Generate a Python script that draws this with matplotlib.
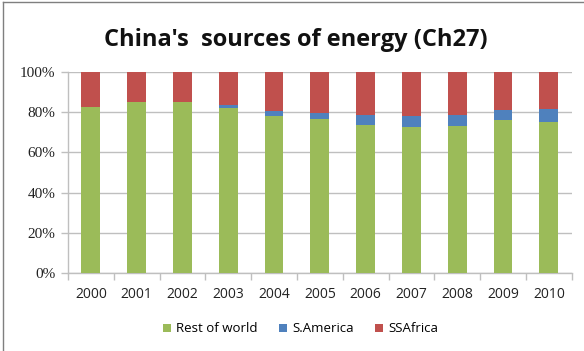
import numpy as np
import matplotlib.pyplot as plt
from matplotlib.ticker import FixedLocator
from matplotlib.lines import Line2D

years = ["2000", "2001", "2002", "2003", "2004", "2005",
         "2006", "2007", "2008", "2009", "2010"]
rest_of_world = [82.3, 84.8, 84.8, 81.8, 78.0, 76.7, 73.6, 72.7, 73.1, 75.9, 74.9]
s_america = [0.3, 0.4, 0.3, 1.7, 2.3, 2.7, 4.9, 5.3, 5.6, 5.3, 6.7]
ss_africa = [100 - r - s for r, s in zip(rest_of_world, s_america)]
pct_ticks = [0, 20, 40, 60, 80, 100]

green = "#9BBB59"
blue = "#4F81BD"
red = "#C0504D"
grid_col = "#BFBFBF"

fig = plt.figure(figsize=(5.84, 3.51), dpi=100)
ax = fig.add_axes([0.1164, 0.2214, 0.8626, 0.5743])

x = np.arange(len(years))
w = 0.41
ax.bar(x, rest_of_world, w, color=green, label="Rest of world", zorder=3)
ax.bar(x, s_america, w, bottom=rest_of_world, color=blue, label="S.America", zorder=3)
bottom2 = [r + s for r, s in zip(rest_of_world, s_america)]
ax.bar(x, ss_africa, w, bottom=bottom2, color=red, label="SSAfrica", zorder=3)

ax.set_xlim(-0.5, len(years) - 0.5)
ax.set_ylim(0, 100)
ax.set_yticks(pct_ticks, labels=[f"{t}%" for t in pct_ticks],
              family="Liberation Serif", fontsize=11, color="#222222")
ax.grid(axis="y", color=grid_col, linewidth=1, zorder=0)

ax.set_xticks(x, labels=years, family="Open Sans", fontsize=10, color="#222222")
ax.xaxis.set_minor_locator(FixedLocator(np.arange(-0.5, len(years), 1.0)))
ax.tick_params(axis="x", which="major", length=0, pad=10)
ax.tick_params(axis="x", which="minor", length=5, color=grid_col, width=1)
ax.tick_params(axis="y", length=5, color=grid_col, width=1, pad=4)

for side in ["top", "right"]:
    ax.spines[side].set_visible(False)
for side in ["left", "bottom"]:
    ax.spines[side].set_color(grid_col)
    ax.spines[side].set_linewidth(1)

fig.text(0.506, 0.886, "China's  sources of energy (Ch27)", ha="center", va="center",
         fontsize=17, fontweight="bold", family="Open Sans", color="#111111")

fig.legend(loc="center", bbox_to_anchor=(0.515, 0.063), ncol=3, frameon=False,
           prop={"family": "Open Sans", "size": 9.5}, handlelength=0.6, handleheight=0.6,
           handletextpad=0.4, columnspacing=1.6)

# outer chart frame (left and top edges)
fig.add_artist(Line2D([0.005, 0.005], [0, 0.995], transform=fig.transFigure, color="#7F7F7F", lw=1))
fig.add_artist(Line2D([0.005, 1.0], [0.993, 0.993], transform=fig.transFigure, color="#7F7F7F", lw=1))

fig.savefig("out.png", dpi=100)
